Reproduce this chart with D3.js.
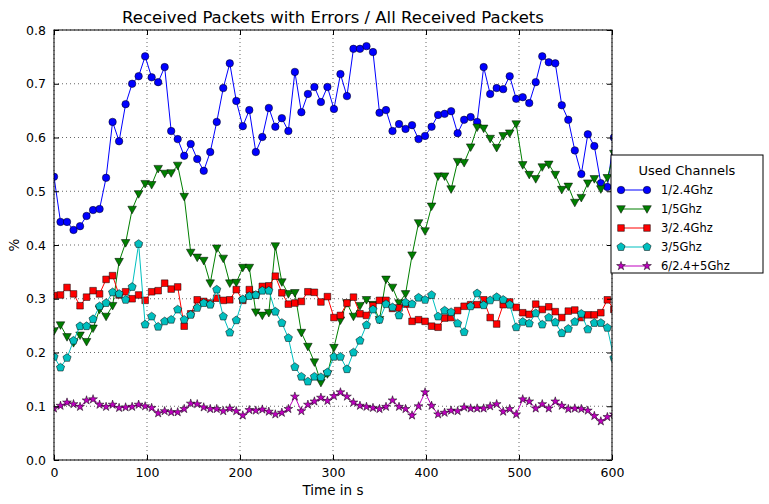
<!DOCTYPE html>
<html><head><meta charset="utf-8">
<script src="https://cdn.jsdelivr.net/npm/d3@7"></script>
<style>body{margin:0;background:#fff}text{font-family:"DejaVu Sans",sans-serif}</style>
</head><body><svg id="c" width="769" height="504"></svg>
<script>
const times=[0,7,14,21,28,35,42,49,56,63,70,77,84,91,98,105,112,119,126,133,140,147,154,161,168,175,182,189,196,203,210,217,224,231,238,245,252,259,266,273,280,287,294,301,308,315,322,329,336,343,350,357,364,371,378,385,392,399,406,413,420,427,434,441,448,455,462,469,476,483,490,497,504,511,518,525,532,539,546,553,560,567,574,581,588,595,602];
const ch1_24=[0.527,0.443,0.443,0.428,0.435,0.454,0.465,0.467,0.525,0.629,0.593,0.662,0.70,0.714,0.751,0.712,0.703,0.731,0.612,0.597,0.566,0.588,
0.56,0.538,0.573,0.629,0.692,0.738,0.668,0.621,0.651,0.573,0.601,0.655,0.62,0.636,0.612,0.722,0.647,0.681,0.694,0.666,0.694,0.653,
0.718,0.677,0.765,0.765,0.77,0.759,0.646,0.651,0.612,0.625,0.616,0.623,0.597,0.603,0.62,0.642,0.644,0.649,0.608,0.633,0.638,
0.629,0.731,0.681,0.692,0.69,0.714,0.672,0.675,0.664,0.703,0.751,0.74,0.738,0.66,0.633,0.576,0.532,0.606,0.584,0.515,0.508,0.6];
const ch1_5=[0.24,0.251,0.229,0.218,0.232,0.22,0.245,0.28,0.267,0.287,0.369,0.404,0.466,0.495,0.514,0.512,0.542,0.533,0.534,0.548,0.49,0.386,
0.377,0.371,0.329,0.394,0.375,0.329,0.33,0.358,0.358,0.275,0.269,0.274,0.398,0.331,0.309,0.311,0.237,0.211,0.182,0.144,0.16,0.209,
0.26,0.292,0.267,0.287,0.298,0.289,0.261,0.336,0.321,0.292,0.309,0.381,0.441,0.426,0.472,0.528,0.528,0.504,0.555,0.553,0.582,
0.619,0.617,0.598,0.581,0.603,0.608,0.625,0.549,0.531,0.523,0.545,0.55,0.531,0.503,0.509,0.479,0.488,0.515,0.523,0.504,0.525,0.57];
const ch3_24=[0.306,0.307,0.321,0.309,0.287,0.303,0.315,0.309,0.336,0.343,0.307,0.313,0.3,0.307,0.297,0.313,0.315,0.329,0.318,0.322,0.249,0.272,
0.298,0.295,0.292,0.301,0.297,0.298,0.317,0.297,0.317,0.307,0.323,0.324,0.342,0.311,0.29,0.292,0.295,0.313,0.312,0.294,0.304,0.265,
0.269,0.292,0.303,0.272,0.269,0.287,0.297,0.297,0.282,0.283,0.29,0.258,0.261,0.258,0.249,0.247,0.264,0.265,0.278,0.286,0.289,
0.289,0.298,0.265,0.253,0.289,0.294,0.284,0.274,0.271,0.29,0.28,0.285,0.276,0.265,0.277,0.279,0.265,0.27,0.27,0.274,0.298,0.28];
const ch3_5=[0.192,0.172,0.19,0.222,0.249,0.249,0.262,0.286,0.292,0.312,0.309,0.298,0.322,0.402,0.252,0.267,0.248,0.258,0.261,0.28,0.261,0.27,
0.283,0.292,0.289,0.317,0.267,0.237,0.26,0.299,0.305,0.307,0.315,0.315,0.276,0.255,0.227,0.173,0.155,0.146,0.155,0.154,0.163,0.192,
0.192,0.169,0.2,0.222,0.251,0.28,0.261,0.29,0.284,0.269,0.293,0.29,0.302,0.298,0.307,0.267,0.278,0.275,0.254,0.238,0.286,
0.31,0.288,0.297,0.303,0.298,0.289,0.247,0.257,0.254,0.273,0.252,0.265,0.256,0.236,0.244,0.257,0.272,0.243,0.255,0.255,0.246,0.19];
const ch6=[0.096,0.101,0.107,0.104,0.099,0.111,0.113,0.103,0.099,0.103,0.097,0.098,0.099,0.103,0.1,0.097,0.087,0.091,0.089,0.089,0.095,0.105,
0.104,0.098,0.095,0.095,0.091,0.096,0.091,0.083,0.093,0.092,0.094,0.09,0.085,0.088,0.095,0.118,0.091,0.103,0.109,0.116,0.11,0.119,
0.126,0.118,0.107,0.101,0.099,0.097,0.095,0.099,0.111,0.099,0.095,0.083,0.1,0.126,0.101,0.085,0.088,0.092,0.091,0.098,0.096,
0.096,0.096,0.1,0.104,0.09,0.095,0.085,0.113,0.109,0.096,0.104,0.096,0.109,0.101,0.095,0.096,0.095,0.092,0.082,0.072,0.08,0.085];
const seriesNames=["1/2.4Ghz","1/5Ghz","3/2.4Ghz","3/5Ghz","6/2.4+5Ghz"];
const colors=["#0000ff","#007f00","#ff0000","#00bfbf","#bf00bf"];
const symbols=[d3.symbolCircle,d3.symbolTriangle,d3.symbolSquare,"pentagon",d3.symbolStar];
const sizes=[44,55,44,50,24];
const xTicks=[0,100,200,300,400,500,600];
const yTicks=[0,0.1,0.2,0.3,0.4,0.5,0.6,0.7,0.8];
const allSeries=[ch1_24,ch1_5,ch3_24,ch3_5,ch6];

const svg=d3.select("#c");
const L=54,R=612,T=30,B=460;
const x=d3.scaleLinear().domain([0,600]).range([L,R]);
const y=d3.scaleLinear().domain([0,0.8]).range([B,T]);
svg.append("defs").append("clipPath").attr("id","cp").append("rect").attr("x",L).attr("y",T).attr("width",R-L).attr("height",B-T);
const g=svg.append("g");
xTicks.forEach(t=>g.append("line").attr("x1",x(t)).attr("x2",x(t)).attr("y1",T).attr("y2",B).attr("stroke","#000").attr("stroke-width",0.6).attr("stroke-dasharray","1,3"));
yTicks.forEach(t=>g.append("line").attr("y1",y(t)).attr("y2",y(t)).attr("x1",L).attr("x2",R).attr("stroke","#000").attr("stroke-width",0.6).attr("stroke-dasharray","1,3"));
function pent(r){const p=[];for(let k=0;k<5;k++){const a=-Math.PI/2+k*2*Math.PI/5;p.push([r*Math.cos(a),r*Math.sin(a)]);}return "M"+p.join("L")+"Z";}
function markerPath(i){
  if(symbols[i]==="pentagon") return pent(4.3);
  if(i===1) return "M-4.3,-3.3L4.3,-3.3L0,4.3Z";
  return d3.symbol().type(symbols[i]).size(sizes[i])();
}
const plot=svg.append("g").attr("clip-path","url(#cp)");
allSeries.forEach((s,i)=>{
  const data=times.map((t,k)=>[t,s[k]]);
  plot.append("path").datum(data).attr("fill","none").attr("stroke",colors[i]).attr("stroke-width",1)
    .attr("d",d3.line().x(d=>x(d[0])).y(d=>y(d[1])));
  plot.selectAll(null).data(data).enter().append("path").attr("d",markerPath(i))
    .attr("transform",d=>`translate(${x(d[0])},${y(d[1])})`).attr("fill",colors[i]).attr("stroke","#000").attr("stroke-width",0.5);
});
const ax=svg.append("g").attr("transform",`translate(0,${B})`).call(d3.axisBottom(x).tickValues(xTicks).tickSize(-5).tickPadding(8).tickFormat(d3.format("d")));
const ax2=svg.append("g").attr("transform",`translate(0,${T})`).call(d3.axisTop(x).tickValues(xTicks).tickSize(-5).tickFormat(""));
const ay=svg.append("g").attr("transform",`translate(${L},0)`).call(d3.axisLeft(y).tickValues(yTicks).tickSize(-5).tickPadding(8).tickFormat(d3.format(".1f")));
const ay2=svg.append("g").attr("transform",`translate(${R},0)`).call(d3.axisRight(y).tickValues(yTicks).tickSize(-5).tickFormat(""));
[ax,ax2,ay,ay2].forEach(a=>{a.select(".domain").remove();a.selectAll("text").attr("font-size",12.5).attr("fill","#000").attr("font-family","DejaVu Sans");a.selectAll("line").attr("stroke","#000");});
svg.append("rect").attr("x",L).attr("y",T).attr("width",R-L).attr("height",B-T).attr("fill","none").attr("stroke","#000").attr("stroke-width",1);
svg.append("text").attr("x",(L+R)/2).attr("y",23).attr("text-anchor","middle").attr("font-size",16.5).text("Received Packets with Errors / All Received Packets");
svg.append("text").attr("x",(L+R)/2).attr("y",495).attr("text-anchor","middle").attr("font-size",13.5).text("Time in s");
svg.append("text").attr("transform","translate(19,245) rotate(-90)").attr("text-anchor","middle").attr("font-size",13.5).text("%");
const lg=svg.append("g").attr("transform","translate(611,155)");
lg.append("rect").attr("x",0).attr("y",0).attr("width",152).attr("height",118).attr("fill","#fff").attr("stroke","#000").attr("stroke-width",1);
lg.append("text").attr("x",76).attr("y",20).attr("text-anchor","middle").attr("font-size",13).text("Used Channels");
seriesNames.forEach((n,i)=>{
  const yy=35+i*19;
  lg.append("line").attr("x1",10).attr("x2",36).attr("y1",yy).attr("y2",yy).attr("stroke",colors[i]);
  [10,36].forEach(xx=>lg.append("path").attr("d",markerPath(i)).attr("transform",`translate(${xx},${yy})`).attr("fill",colors[i]).attr("stroke","#000").attr("stroke-width",0.5));
  lg.append("text").attr("x",50).attr("y",yy+4).attr("font-size",11.5).text(n);
});
</script></body></html>
